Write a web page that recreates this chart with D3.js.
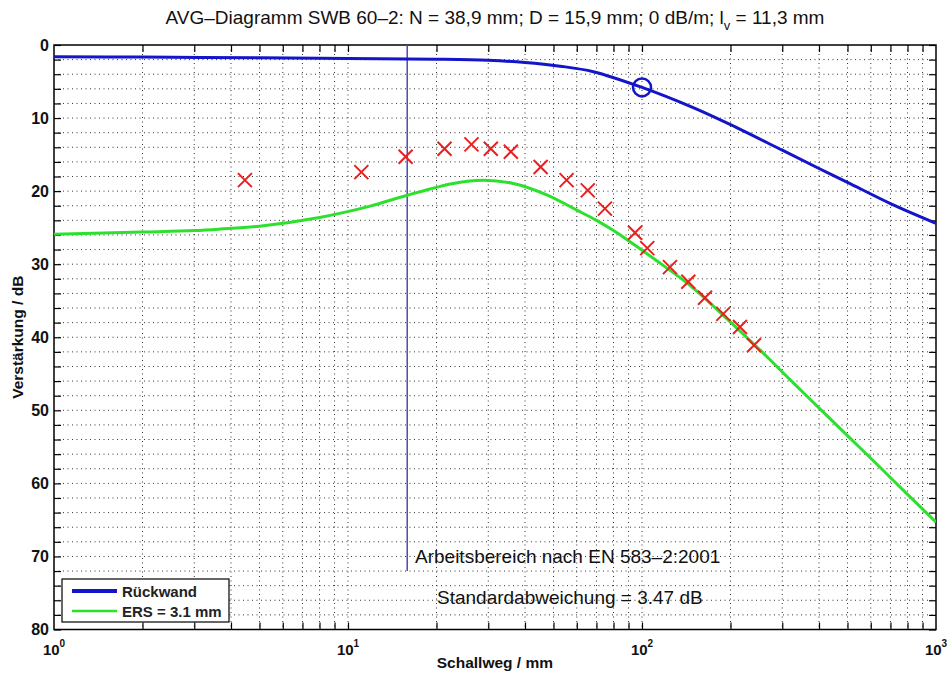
<!DOCTYPE html>
<html>
<head>
<meta charset="utf-8">
<script src="https://cdn.jsdelivr.net/npm/d3@7"></script>
<style>
  html, body { margin: 0; padding: 0; background: #fff; }
  svg text { font-family: "Liberation Sans", Arial, Helvetica, sans-serif; }
</style>
</head>
<body>
<svg id="chart" width="949" height="677"></svg>
<script>
// Rückwand (back wall) echo curve: distance in mm, gain in dB
const backwallDist = [1, 2, 5, 10, 20, 30, 40, 52.6, 68.3, 100, 150, 200, 300, 400, 500, 700, 1000];
const backwallGain = [1.6, 1.65, 1.75, 1.85, 1.95, 2.1, 2.4, 2.9, 3.65, 5.8, 8.6, 10.9, 14.4, 16.9, 18.8, 21.7, 24.4];

// ERS = 3.1 mm equivalent reflector curve
const ersDist = [1, 2, 3, 3.67, 5, 8, 11.9, 15.8, 22.8, 28.9, 36.5, 47.4, 60, 70, 80, 90, 112, 145.6, 189, 265, 318.6, 403, 510, 645, 795, 1000];
const ersGain = [25.9, 25.6, 25.4, 25.2, 24.8, 23.6, 22.05, 20.6, 18.95, 18.5, 18.95, 20.5, 22.6, 24.0, 25.4, 26.8, 29.5, 32.9, 37.0, 42.6, 45.8, 49.8, 53.8, 57.8, 61.4, 65.3];

// measured echo amplitudes
const measDist = [4.46, 11.1, 15.7, 21.3, 26.3, 30.6, 35.8, 45.2, 55.4, 65.4, 74.8, 94.7, 104.2, 124.5, 143.7, 163.8, 189, 215.4, 240.4];
const measGain = [18.5, 17.4, 15.3, 14.2, 13.6, 14.2, 14.6, 16.7, 18.5, 19.9, 22.4, 25.7, 27.8, 30.4, 32.4, 34.6, 36.8, 38.6, 41.1];

// reference point on the back wall curve
const refDist = [100];
const refGain = [5.8];

// working range limit (D = 15.9 mm)
const workDist = 15.9;
const workGainEnd = 72;

const yMajorTicks = [0, 10, 20, 30, 40, 50, 60, 70, 80];
const xMajorTicks = [1, 10, 100, 1000];
const xTickExponents = ["0", "1", "2", "3"];

const svg = d3.select("#chart");
const pL = 54, pR = 936, pT = 45, pB = 629.5;

const x = d3.scaleLog().domain([1, 1000]).range([pL, pR]);
const y = d3.scaleLinear().domain([0, 80]).range([pT, pB]);

// minor tick values
const xMinor = [];
for (let d = 1; d < 1000; d *= 10) for (let k = 2; k <= 9; k++) xMinor.push(d * k);
const yMinor = d3.range(0, 81, 2);

// dotted grid
const grid = svg.append("g").attr("stroke", "#333").attr("stroke-width", 1)
  .attr("stroke-dasharray", "1,3.5").attr("fill", "none");
[...xMinor, 10, 100].forEach(v => {
  grid.append("line").attr("x1", x(v)).attr("x2", x(v)).attr("y1", pT).attr("y2", pB);
});
yMinor.filter(v => v > 0 && v < 80).forEach(v => {
  grid.append("line").attr("x1", pL).attr("x2", pR).attr("y1", y(v)).attr("y2", y(v));
});

// inward ticks on all four sides
const axisStyle = g => {
  g.select(".domain").remove();
  g.selectAll(".tick line").attr("stroke", "#000").attr("stroke-width", 1.2);
};
const tickFmt = () => "";
svg.append("g").attr("transform", `translate(${pL},0)`)
  .call(d3.axisRight(y).tickValues(yMinor).tickSize(7).tickFormat(tickFmt)).call(axisStyle);
svg.append("g").attr("transform", `translate(${pR},0)`)
  .call(d3.axisLeft(y).tickValues(yMinor).tickSize(7).tickFormat(tickFmt)).call(axisStyle);
svg.append("g").attr("transform", `translate(0,${pB})`)
  .call(d3.axisTop(x).tickValues([...xMinor, 10, 100]).tickSize(7).tickFormat(tickFmt)).call(axisStyle);
svg.append("g").attr("transform", `translate(0,${pT})`)
  .call(d3.axisBottom(x).tickValues([...xMinor, 10, 100]).tickSize(7).tickFormat(tickFmt)).call(axisStyle);

// y tick labels
svg.append("g").selectAll("text").data(yMajorTicks).join("text")
  .attr("x", pL - 5).attr("y", d => y(d) + 5.5)
  .attr("text-anchor", "end").attr("font-size", 16).attr("font-weight", "bold")
  .attr("fill", "#111").text(d => d);

// x tick labels with exponents
const xl = svg.append("g").selectAll("text").data(xMajorTicks).join("text")
  .attr("x", d => x(d)).attr("y", pB + 25)
  .attr("text-anchor", "middle").attr("font-size", 15).attr("font-weight", "bold").attr("fill", "#111");
xl.append("tspan").text("10");
xl.append("tspan").attr("dy", -8).attr("font-size", 10).text((d, i) => xTickExponents[i]);

// frame
svg.append("rect").attr("x", pL).attr("y", pT).attr("width", pR - pL).attr("height", pB - pT)
  .attr("fill", "none").attr("stroke", "#000").attr("stroke-width", 1.5);

// curves
svg.append("clipPath").attr("id", "plotclip").append("rect")
  .attr("x", pL).attr("y", pT).attr("width", pR - pL).attr("height", pB - pT);
const plot = svg.append("g").attr("clip-path", "url(#plotclip)");

const line = d3.line().x(d => x(d[0])).y(d => y(d[1])).curve(d3.curveCatmullRom.alpha(0.5));

// working range marker
plot.append("line").attr("x1", x(workDist)).attr("x2", x(workDist))
  .attr("y1", y(0)).attr("y2", y(workGainEnd))
  .attr("stroke", "#4a4ab0").attr("stroke-width", 1.5);

plot.append("path").datum(ersDist.map((d, i) => [d, ersGain[i]]))
  .attr("d", line).attr("fill", "none").attr("stroke", "#2ee02e").attr("stroke-width", 3);

plot.append("path").datum(backwallDist.map((d, i) => [d, backwallGain[i]]))
  .attr("d", line).attr("fill", "none").attr("stroke", "#1414c8").attr("stroke-width", 3);

// reference circle
plot.selectAll("circle.ref").data(refDist).join("circle").attr("class", "ref")
  .attr("cx", d => x(d)).attr("cy", (d, i) => y(refGain[i])).attr("r", 9)
  .attr("fill", "none").attr("stroke", "#1414c8").attr("stroke-width", 2.5);

// measured points as crosses
const s = 7;
plot.selectAll("path.meas").data(measDist).join("path").attr("class", "meas")
  .attr("d", (d, i) => {
    const cx = x(d), cy = y(measGain[i]);
    return `M${cx - s},${cy - s}L${cx + s},${cy + s}M${cx - s},${cy + s}L${cx + s},${cy - s}`;
  })
  .attr("stroke", "#e82020").attr("stroke-width", 2).attr("fill", "none");

// annotations
svg.append("text").attr("x", 415).attr("y", 563).attr("font-size", 19).attr("fill", "#111")
  .text("Arbeitsbereich nach EN 583–2:2001");
svg.append("text").attr("x", 437).attr("y", 604).attr("font-size", 19).attr("fill", "#111")
  .text("Standardabweichung = 3.47 dB");

// legend
const lg = svg.append("g");
lg.append("rect").attr("x", 62).attr("y", 579).attr("width", 167).attr("height", 43)
  .attr("fill", "#fff").attr("stroke", "#000").attr("stroke-width", 1.2);
const legendItems = [["Rückwand", "#1414c8", 4], ["ERS = 3.1 mm", "#2ee02e", 2.5]];
legendItems.forEach((it, i) => {
  const yy = 591 + i * 20;
  lg.append("line").attr("x1", 72).attr("x2", 117).attr("y1", yy).attr("y2", yy)
    .attr("stroke", it[1]).attr("stroke-width", it[2]);
  lg.append("text").attr("x", 122).attr("y", yy + 5.5).attr("font-size", 15)
    .attr("font-weight", "bold").attr("fill", "#222").text(it[0]);
});

// axis titles
svg.append("text").attr("x", x(31.6)).attr("y", 668).attr("text-anchor", "middle")
  .attr("font-size", 15.5).attr("font-weight", "bold").attr("fill", "#111").text("Schallweg / mm");
svg.append("text").attr("transform", `translate(23,${(pT + pB) / 2}) rotate(-90)`)
  .attr("text-anchor", "middle").attr("font-size", 15.5).attr("font-weight", "bold")
  .attr("fill", "#111").text("Verstärkung / dB");

// title
const t = svg.append("text").attr("x", (pL + pR) / 2).attr("y", 24).attr("text-anchor", "middle")
  .attr("font-size", 19).attr("fill", "#111");
t.append("tspan").text("AVG–Diagramm SWB 60–2: N = 38,9 mm; D = 15,9 mm; 0 dB/m; l");
t.append("tspan").attr("dy", 6).attr("font-size", 13).text("v");
t.append("tspan").attr("dy", -6).text(" = 11,3 mm");
</script>
</body>
</html>
